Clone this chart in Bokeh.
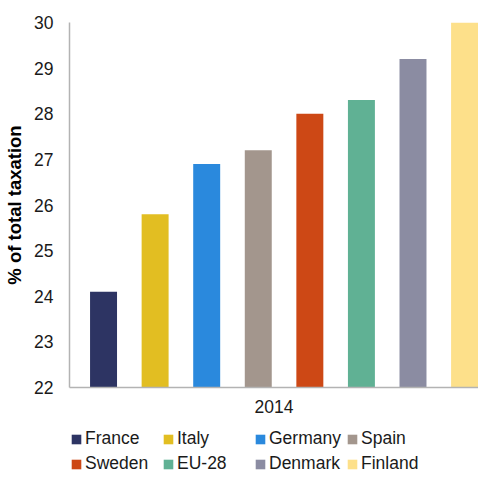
from bokeh.embed import file_html
from bokeh.layouts import column
from bokeh.models import ColumnDataSource, FixedTicker, Legend, LegendItem, Range1d
from bokeh.plotting import figure
from bokeh.resources import INLINE

# Share of total taxation, 2014
countries = ["France", "Italy", "Germany", "Spain", "Sweden", "EU-28", "Denmark", "Finland"]
shares = [24.1, 25.8, 26.9, 27.2, 28.0, 28.3, 29.2, 30.0]
colors = ["#2d3463", "#e2be22", "#2a89dd", "#a3968d", "#cd4815", "#60b194", "#8b8ca2", "#fde08a"]
year = "2014"
y_ticks = [22, 23, 24, 25, 26, 27, 28, 29, 30]

FONT = "Liberation Sans"
AXIS_GREY = "#b3b3b3"
TEXT = "#1a1a1a"

source = ColumnDataSource(data={
    "x": list(range(len(countries))),
    "share": shares,
    "color": colors,
    "country": countries,
})

p = figure(
    width=478,
    height=420,
    x_range=Range1d(-0.66, len(countries) - 0.73),
    y_range=Range1d(y_ticks[0], y_ticks[-1]),
    output_backend="svg",
    toolbar_location=None,
    min_border_left=69,
    min_border_right=0,
    min_border_top=22,
    min_border_bottom=33,
)
p.outline_line_color = None
p.grid.visible = False

bars = p.vbar(x="x", top="share", bottom=y_ticks[0], width=0.523,
              fill_color="color", line_color=None, source=source)

# y axis
p.yaxis.ticker = FixedTicker(ticks=y_ticks)
p.yaxis.axis_label = "% of total taxation"
p.yaxis.axis_label_text_font = FONT
p.yaxis.axis_label_text_font_size = "18.5px"
p.yaxis.axis_label_text_font_style = "bold"
p.yaxis.axis_label_text_color = "black"
p.yaxis.axis_label_standoff = 6
p.yaxis.major_label_text_font = FONT
p.yaxis.major_label_text_font_size = "17.5px"
p.yaxis.major_label_text_color = TEXT
p.yaxis.major_label_standoff = 16
p.yaxis.major_tick_in = 0
p.yaxis.major_tick_out = 0
p.yaxis.minor_tick_in = 0
p.yaxis.minor_tick_out = 0
p.yaxis.axis_line_color = AXIS_GREY
p.yaxis.axis_line_width = 1.5

# x axis: only the year under the group
p.xaxis.ticker = FixedTicker(ticks=[])
p.xaxis.major_label_text_font_size = "0px"
p.xaxis.major_label_standoff = 0
p.xaxis.major_tick_in = 0
p.xaxis.major_tick_out = 0
p.xaxis.minor_tick_in = 0
p.xaxis.minor_tick_out = 0
p.xaxis.axis_line_color = AXIS_GREY
p.xaxis.axis_line_width = 1.5
p.xaxis.axis_label = year
p.xaxis.axis_label_text_font = FONT
p.xaxis.axis_label_text_font_size = "17.5px"
p.xaxis.axis_label_text_font_style = "normal"
p.xaxis.axis_label_text_color = TEXT
p.xaxis.axis_label_standoff = 12

# legend strip below the chart (its frame lines up with the chart's frame)
leg = figure(
    width=478,
    height=54,
    x_range=Range1d(100, 101),
    y_range=Range1d(100, 101),
    x_axis_type=None,
    y_axis_type=None,
    output_backend="svg",
    toolbar_location=None,
    min_border=0,
)
leg.outline_line_color = None
leg.grid.visible = False
# same bars, kept out of view: they only feed the legend swatches
leg_bars = leg.vbar(x="x", top="share", bottom=y_ticks[0], width=0.523,
                    fill_color="color", line_color=None, source=source)

legend = Legend(
    items=[LegendItem(label=c, renderers=[leg_bars], index=i) for i, c in enumerate(countries)],
    orientation="horizontal",
    ncols=4,
    location=(1, 0),
    label_text_font=FONT,
    label_text_font_size="17.5px",
    label_text_color=TEXT,
    label_standoff=3,
    label_width=73,
    label_height=20,
    glyph_width=12,
    glyph_height=12,
    spacing=4,
    padding=0,
    margin=0,
    border_line_color=None,
    background_fill_alpha=0,
)
leg.add_layout(legend)

open("out.html", "w").write(file_html(column(p, leg), INLINE))
